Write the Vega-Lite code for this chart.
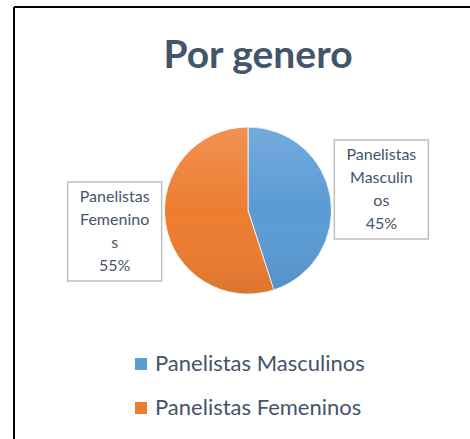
{
  "$schema": "https://vega.github.io/schema/vega-lite/v6.json",
  "width": 468,
  "height": 432,
  "autosize": {"type": "none"},
  "padding": {"left": 14, "top": 7, "right": 0, "bottom": 0},
  "background": "#ffffff",
  "config": {
    "view": {"stroke": "#000000", "strokeWidth": 2, "strokeDash": [900, 468, 432, 0]},
    "font": "Lato"
  },
  "title": {
    "text": "Por genero",
    "font": "Lato",
    "fontWeight": "bold",
    "fontSize": 39,
    "color": "#44546A",
    "anchor": "middle",
    "dx": 10,
    "offset": -100,
    "baseline": "alphabetic",
    "frame": "group"
  },
  "data": {
    "values": [
      {"genero": "Panelistas Masculinos", "valor": 45, "orden": 1, "etiqueta": "Panelistas\nMasculin\nos\n45%"},
      {"genero": "Panelistas Femeninos", "valor": 55, "orden": 2, "etiqueta": "Panelistas\nFemenino\ns\n55%"}
    ]
  },
  "layer": [
    {
      "mark": {"type": "arc", "radius": 83.5, "yOffset": -12.5, "stroke": "#ffffff", "strokeWidth": 0.8},
      "encoding": {
        "theta": {"field": "valor", "type": "quantitative", "stack": true},
        "order": {"field": "orden", "type": "quantitative"},
        "color": {
          "field": "genero",
          "type": "nominal",
          "scale": {"domain": ["Panelistas Masculinos", "Panelistas Femeninos"], "range": ["#5B9BD5", "#ED7D31"]},
          "legend": {
            "orient": "none",
            "legendX": 116,
            "legendY": 346,
            "direction": "vertical",
            "title": null,
            "symbolType": "square",
            "symbolSize": 144,
            "symbolStrokeWidth": 0,
            "labelFontSize": 22,
            "labelFont": "Lato",
            "labelColor": "#44546A",
            "labelLimit": 400,
            "rowPadding": 22,
            "labelOffset": 3,
            "padding": 0
          }
        }
      }
    },
    {
      "mark": {
        "type": "arc",
        "radius": 83.5,
        "yOffset": -12.5,
        "color": {
          "gradient": "linear",
          "x1": 0, "y1": 0, "x2": 0, "y2": 1,
          "stops": [
            {"offset": 0, "color": "rgba(255,255,255,0.16)"},
            {"offset": 0.5, "color": "rgba(255,255,255,0)"},
            {"offset": 1, "color": "rgba(0,0,0,0.07)"}
          ]
        }
      },
      "encoding": {
        "theta": {"field": "valor", "type": "quantitative", "stack": true},
        "order": {"field": "orden", "type": "quantitative"}
      }
    },
    {
      "transform": [
        {"joinaggregate": [{"op": "sum", "field": "valor", "as": "total"}]},
        {"window": [{"op": "sum", "field": "valor", "as": "acum"}], "sort": [{"field": "orden"}], "frame": [null, 0]},
        {"calculate": "(datum.acum - datum.valor / 2) / datum.total * 2 * PI", "as": "mid"},
        {"calculate": "135 * sin(datum.mid)", "as": "lx"},
        {"calculate": "-135 * cos(datum.mid)", "as": "ly"},
        {"calculate": "datum.lx - 47", "as": "bx1"},
        {"calculate": "datum.lx + 47", "as": "bx2"},
        {"calculate": "datum.ly - 49.5", "as": "by1"},
        {"calculate": "datum.ly + 49.5", "as": "by2"}
      ],
      "mark": {"type": "rect", "fill": "#ffffff", "stroke": "#BFBFBF", "strokeWidth": 1.5},
      "encoding": {
        "x": {"field": "bx1", "type": "quantitative", "scale": {"domain": [-234, 234]}, "axis": null},
        "x2": {"field": "bx2"},
        "y": {"field": "by1", "type": "quantitative", "scale": {"domain": [-203.5, 228.5], "reverse": true}, "axis": null},
        "y2": {"field": "by2"}
      }
    },
    {
      "mark": {
        "type": "text",
        "radius": 135,
        "fontSize": 16,
        "font": "Lato",
        "lineBreak": "\n",
        "lineHeight": 23,
        "align": "center",
        "baseline": "middle",
        "dy": -47,
        "fill": "#44546A"
      },
      "encoding": {
        "theta": {"field": "valor", "type": "quantitative", "stack": true},
        "order": {"field": "orden", "type": "quantitative"},
        "text": {"field": "etiqueta", "type": "nominal"}
      }
    }
  ]
}
